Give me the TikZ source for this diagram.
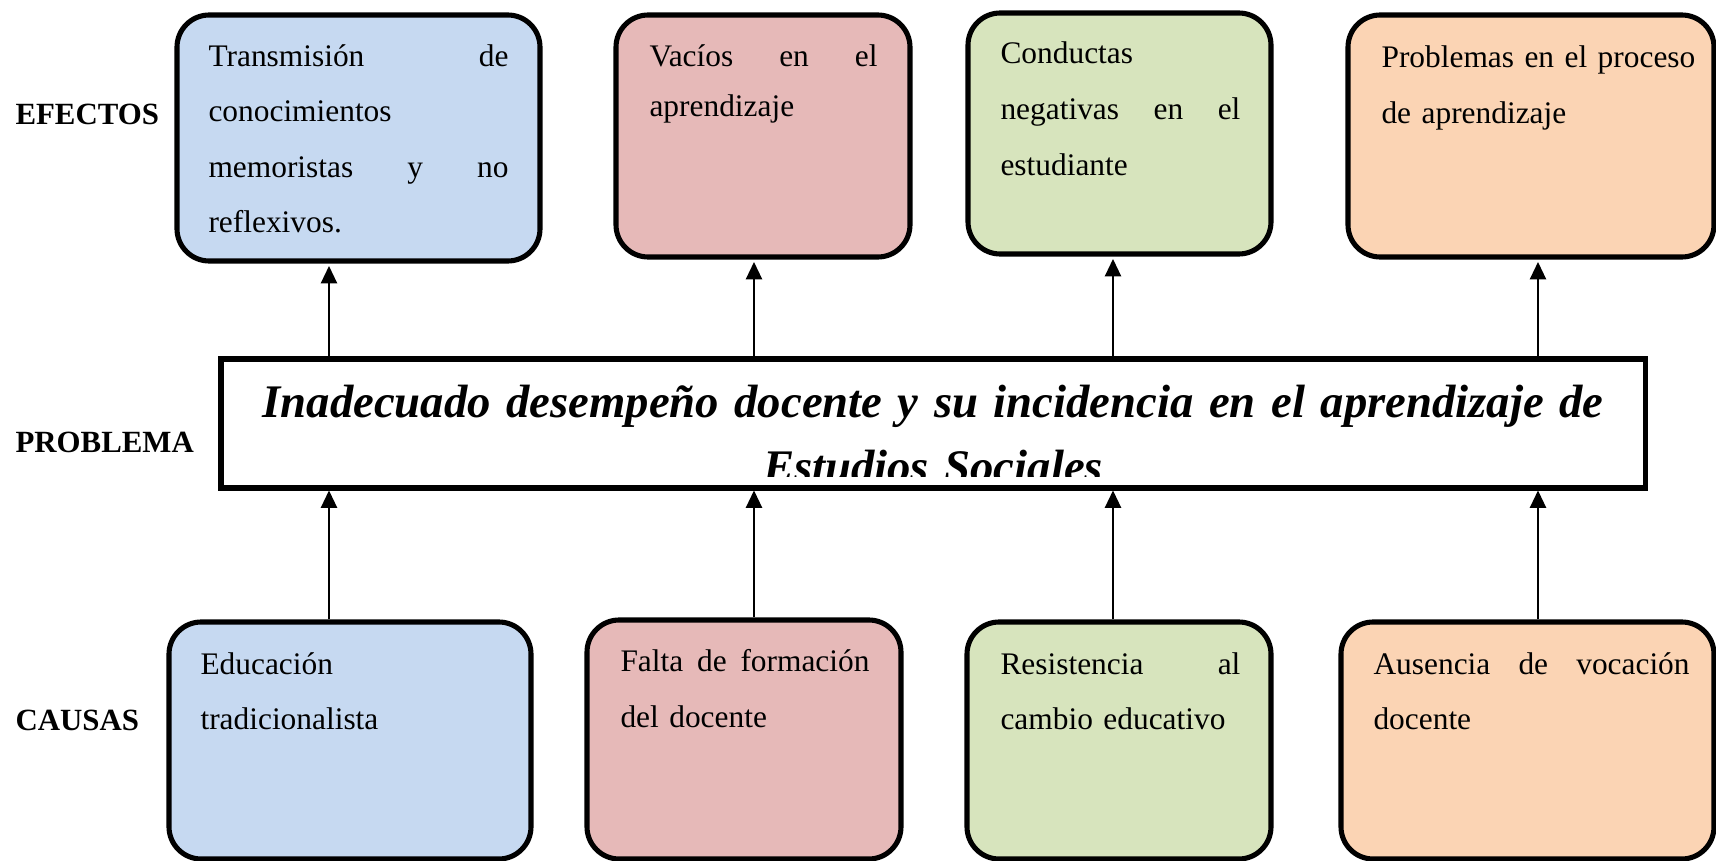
\documentclass[tikz,border=0pt]{standalone}
\usepackage{fontspec}
\setmainfont{Liberation Serif}
\usetikzlibrary{arrows.meta, fit}
\definecolor{azul}{HTML}{C6D9F1}
\definecolor{rojo}{HTML}{E6B9B8}
\definecolor{verde}{HTML}{D7E4BD}
\definecolor{naranja}{HTML}{FBD4B4}

\begin{document}
\begin{tikzpicture}[x = 0.3727pt, y = -0.3727pt,
	caja/.style = {rectangle, rounded corners = 12pt, draw = black, line width = 1.9pt, inner sep = 0pt},
	texto/.style = {anchor = base west, inner sep = 0pt, font = \fontsize{11.7}{20.5}\selectfont},
	rotulo/.style = {anchor = base west, inner sep = 0pt, font = \fontsize{11.5}{14}\selectfont\bfseries},
	flecha/.style = {line width = 0.8pt, -{Triangle[length = 6.5pt, width = 6pt]}, shorten > = 0.9pt}]
	\fill[white] (0, 0) rectangle (1716, 861);
	\useasboundingbox (0, 0) rectangle (1716, 861);
	\node[rotulo] (efectos) at (15, 125) {EFECTOS};
	\node[rotulo] (problema) at (15, 453) {PROBLEMA};
	\node[rotulo] (causas) at (15, 730) {CAUSAS};
	\node[caja, fill = azul, fit = {(177, 15) (540, 261)}] (ef1) {};
	\node[caja, fill = rojo, fit = {(616, 15) (910, 257)}] (ef2) {};
	\node[caja, fill = verde, fit = {(968, 13) (1271, 254)}] (ef3) {};
	\node[caja, fill = naranja, fit = {(1348, 15) (1714, 257)}] (ef4) {};
	\node[caja, fill = azul, fit = {(169, 622) (531, 859)}] (ca1) {};
	\node[caja, fill = rojo, fit = {(587, 620) (901, 859)}] (ca2) {};
	\node[caja, fill = verde, fit = {(967, 622) (1271, 859)}] (ca3) {};
	\node[caja, fill = naranja, fit = {(1341, 622) (1714, 859)}] (ca4) {};
	\node[texto, text width = 111.8pt] (ef1t) at (208, 67) {Transmisión \hfill de\\ conocimientos\\ memoristas \hfill y \hfill no\\ reflexivos.};
	\node[texto, text width = 85pt, font = \fontsize{11.7}{18.6}\selectfont] (ef2t) at (649, 67) {Vacíos \hfill en \hfill el\\ aprendizaje};
	\node[texto, text width = 89.4pt, font = \fontsize{11.7}{20.8}\selectfont] (ef3t) at (1000, 64) {Conductas\\ negativas \hfill en \hfill el\\ estudiante};
	\node[texto, text width = 125pt, font = \fontsize{11.7}{20.8}\selectfont] (ef4t) at (1381, 68) {Problemas en el proceso\\ de aprendizaje};
	\node[texto, text width = 111.8pt, font = \fontsize{11.7}{20.8}\selectfont] (ca1t) at (200, 674) {Educación\\ tradicionalista};
	\node[texto, text width = 92.8pt, font = \fontsize{11.7}{20.8}\selectfont] (ca2t) at (620, 672) {Falta \hfill de \hfill formación\\ del docente};
	\node[texto, text width = 89.4pt, font = \fontsize{11.7}{20.8}\selectfont] (ca3t) at (1000, 674) {Resistencia \hfill al\\ cambio educativo};
	\node[texto, text width = 117.8pt, font = \fontsize{11.7}{20.8}\selectfont] (ca4t) at (1373, 674) {Ausencia \hfill de \hfill vocación\\ docente};
	\node[fill = white, inner sep = 0pt, fit = {(221.5, 359.5) (1644.5, 487.5)}] (prob) {};
	\begin{scope}
		\clip (221.5, 359.5) rectangle (1644.5, 477);
		\node[anchor = base, inner sep = 0pt, text width = 530pt, align = center, font = \fontsize{17.4}{24}\selectfont\bfseries\itshape] (probt) at (933, 418) {Inadecuado desempeño docente y su incidencia en el aprendizaje de\\ Estudios Sociales};
	\end{scope}
	\draw[line width = 1.9pt] (prob.north west) rectangle (prob.south east);
	\draw[flecha] (329, 0 |- prob.north) -- (329, 0 |- ef1.south);
	\draw[flecha] (754, 0 |- prob.north) -- (754, 0 |- ef2.south);
	\draw[flecha] (1113, 0 |- prob.north) -- (1113, 0 |- ef3.south);
	\draw[flecha] (1538, 0 |- prob.north) -- (1538, 0 |- ef4.south);
	\draw[flecha] (329, 0 |- ca1.north) -- (329, 0 |- prob.south);
	\draw[flecha] (754, 0 |- ca2.north) -- (754, 0 |- prob.south);
	\draw[flecha] (1113, 0 |- ca3.north) -- (1113, 0 |- prob.south);
	\draw[flecha] (1538, 0 |- ca4.north) -- (1538, 0 |- prob.south);
\end{tikzpicture}
\end{document}
